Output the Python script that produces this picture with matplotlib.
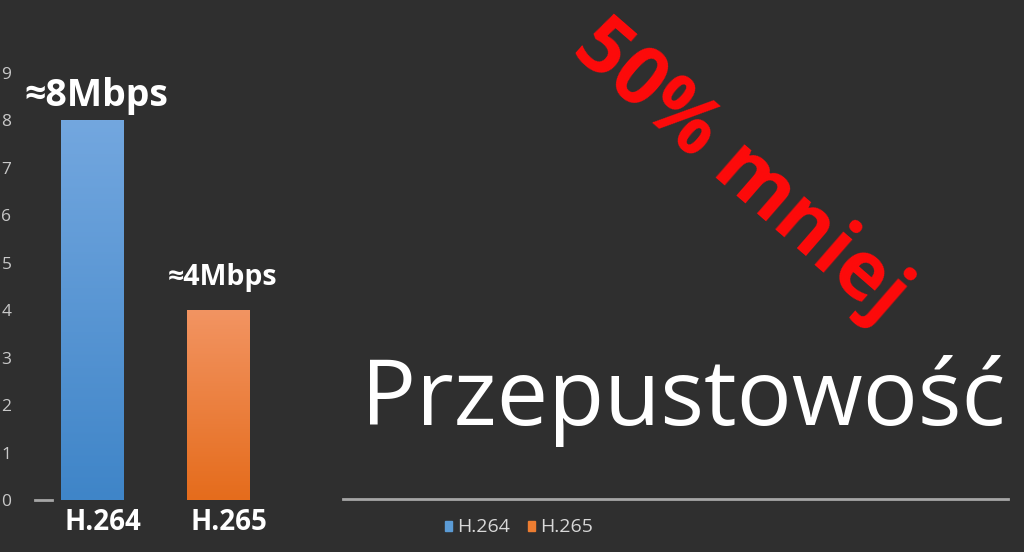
import matplotlib
matplotlib.use("Agg")
import matplotlib.pyplot as plt
import numpy as np
from matplotlib.colors import LinearSegmentedColormap

categories = ["H.264", "H.265"]
values = [8, 4]
value_labels = ["≈8Mbps", "≈4Mbps"]
yticks = [0, 1, 2, 3, 4, 5, 6, 7, 8, 9]
title = "Przepustowość"
callout = "50% mniej"

grad_top = ["#73a7df", "#f29462"]
grad_bot = ["#3f85c8", "#e56c1c"]
legend_colors = ["#5b9bd5", "#ed7d31"]

BG = "#2f2f2f"
FONT = ["Open Sans", "DejaVu Sans"]

W, H = 1024, 552
fig = plt.figure(figsize=(W / 100, H / 100), dpi=100, facecolor=BG)

# axes geometry in pixels
y0_px, y9_px = 500, 73
x0c, xstep = 92.5, 126.0
ax_left_px, ax_right_px = 35, 330
xmin = (ax_left_px - x0c) / xstep
xmax = (ax_right_px - x0c) / xstep
ax = fig.add_axes([ax_left_px / W, (H - y0_px) / H,
                   (ax_right_px - ax_left_px) / W, (y0_px - y9_px) / H])
ax.set_facecolor(BG)
ax.set_xlim(xmin, xmax)
ax.set_ylim(0, 9)
for s in ax.spines.values():
    s.set_visible(False)
ax.set_xticks([])
ax.set_yticks(yticks)
ax.tick_params(axis="y", length=0, pad=17, labelsize=12.5, labelcolor="#c8c8c8")
for lab in ax.get_yticklabels():
    lab.set_fontfamily(FONT)

# baseline stub
ax.plot([xmin, (52 - x0c) / xstep], [0, 0], color="#a6a6a6", lw=2, clip_on=False)

xs = np.arange(len(categories))
bars = ax.bar(xs, values, width=0.5, color="none", edgecolor="none", zorder=2)
for i, b in enumerate(bars):
    cmap = LinearSegmentedColormap.from_list("g", [grad_bot[i], grad_top[i]])
    grad = np.linspace(0, 1, 256).reshape(-1, 1)
    im = ax.imshow(grad, cmap=cmap, origin="lower", aspect="auto",
                   extent=[b.get_x(), b.get_x() + b.get_width(), 0, values[i]],
                   zorder=2)
    im.set_clip_path(b)
ax.set_xlim(xmin, xmax)
ax.set_ylim(0, 9)

label_sizes = [27, 20.5]
label_offsets = [0.52, 0.7]
for i, v in enumerate(values):
    ax.text(xs[i] + 0.03, v + label_offsets[i], value_labels[i], ha="center", va="center",
            color="white", fontsize=label_sizes[i], fontweight="bold", family=FONT)
    ax.text(xs[i] + 0.08, -0.47, categories[i], ha="center", va="center",
            color="white", fontsize=20, fontweight="bold", family=FONT, clip_on=False)

# right side decorations
fig.add_artist(plt.Line2D([343 / W, 1008 / W], [(H - 499) / H] * 2,
                          color="#a6a6a6", lw=2))
fig.text(683 / W, (H - 425) / H, title, ha="center", va="baseline",
         color="white", fontsize=66, family=FONT)
fig.text(740 / W, (H - 172) / H, callout, ha="center", va="center",
         color="#ff0a0a", fontsize=58, fontweight="bold", family=FONT,
         rotation=-41, rotation_mode="anchor")

# legend
for i, c in enumerate(categories):
    lx = [445, 528][i]
    fig.patches.append(plt.Rectangle((lx / W, (H - 531) / H), 7 / W, 10 / H,
                                     color=legend_colors[i], transform=fig.transFigure))
    fig.text((lx + 12) / W, (H - 527) / H, c, ha="left", va="center",
             color="#d8d8d8", fontsize=14, family=FONT)

fig.savefig("out.png", dpi=100, facecolor=BG)
